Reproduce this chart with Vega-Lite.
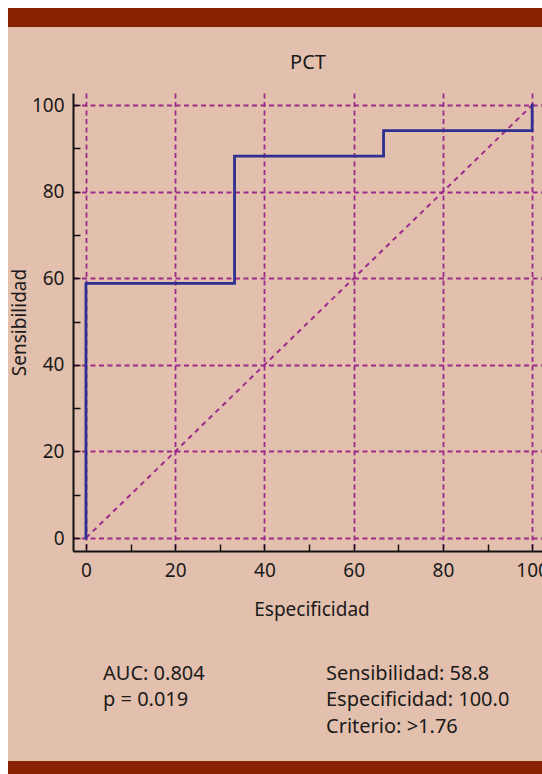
{
  "$schema": "https://vega.github.io/schema/vega-lite/v6.json",
  "width": 477,
  "height": 458,
  "autosize": {"type": "none"},
  "padding": {"left": 73, "top": 93, "right": 0, "bottom": 223},
  "background": "#e3c0ad",
  "config": {
    "view": {"stroke": null},
    "font": "Noto Sans",
    "axis": {
      "domainColor": "#111111",
      "domainWidth": 2,
      "tickColor": "#111111",
      "tickWidth": 1.5,
      "tickSize": -7,
      "labelFont": "Noto Sans",
      "labelFontSize": 19,
      "labelColor": "#1a1a1a",
      "labelOverlap": false,
      "labelFlush": false,
      "labelBound": false,
      "titleFont": "Noto Sans",
      "titleFontSize": 19,
      "titleFontWeight": "normal",
      "titleColor": "#1a1a1a",
      "grid": true,
      "gridColor": "#9c2a8c",
      "gridDash": [5, 3.5],
      "gridWidth": 1.8,
      "gridOpacity": {"condition": {"test": "datum.value % 20 === 0", "value": 1}, "value": 0}
    }
  },
  "datasets": {
    "roc": [
      {"i": 1, "esp": 0, "sens": 0},
      {"i": 2, "esp": 0, "sens": 58.8},
      {"i": 3, "esp": 33.3, "sens": 58.8},
      {"i": 4, "esp": 33.3, "sens": 88.2},
      {"i": 5, "esp": 66.7, "sens": 88.2},
      {"i": 6, "esp": 66.7, "sens": 94.1},
      {"i": 7, "esp": 100, "sens": 94.1},
      {"i": 8, "esp": 100, "sens": 100}
    ],
    "ref": [
      {"esp": 0, "sens": 0},
      {"esp": 100, "sens": 100}
    ],
    "one": [{}]
  },
  "layer": [
    {
      "data": {"name": "ref"},
      "mark": {"type": "line", "color": "#9c2a8c", "strokeWidth": 2, "strokeDash": [5, 4.5]},
      "encoding": {
        "x": {
          "field": "esp",
          "type": "quantitative",
          "scale": {"domain": [-2.9, 104], "nice": false, "zero": false},
          "axis": {
            "title": "Especificidad",
            "values": [0, 5, 10, 15, 20, 25, 30, 35, 40, 45, 50, 55, 60, 65, 70, 75, 80, 85, 90, 95, 100],
            "labelExpr": "datum.value % 20 === 0 ? datum.label : ''",
            "labelPadding": 17,
            "titlePadding": 20
          }
        },
        "y": {
          "field": "sens",
          "type": "quantitative",
          "scale": {"domain": [-3, 102.8], "nice": false, "zero": false},
          "axis": {
            "title": "Sensibilidad",
            "values": [0, 5, 10, 15, 20, 25, 30, 35, 40, 45, 50, 55, 60, 65, 70, 75, 80, 85, 90, 95, 100],
            "labelExpr": "datum.value % 20 === 0 ? datum.label : ''",
            "labelPadding": 16,
            "titlePadding": 2
          }
        }
      }
    },
    {
      "data": {"name": "roc"},
      "mark": {"type": "line", "color": "#2d3091", "strokeWidth": 2.8, "strokeJoin": "miter", "strokeCap": "square"},
      "encoding": {
        "x": {"field": "esp", "type": "quantitative"},
        "y": {"field": "sens", "type": "quantitative"},
        "order": {"field": "i", "type": "quantitative"}
      }
    },
    {
      "data": {"name": "one"},
      "mark": {"type": "rect", "color": "#ffffff"},
      "encoding": {
        "x": {"datum": -20},
        "x2": {"datum": -17.47},
        "y": {"datum": -56},
        "y2": {"datum": 125}
      }
    },
    {
      "data": {"name": "one"},
      "mark": {"type": "rect", "color": "#ffffff"},
      "encoding": {
        "x": {"datum": -20},
        "x2": {"datum": 110},
        "y": {"datum": 122.43},
        "y2": {"datum": 125}
      }
    },
    {
      "data": {"name": "one"},
      "mark": {"type": "rect", "color": "#8a2200"},
      "encoding": {
        "x": {"datum": -17.47},
        "x2": {"datum": 110},
        "y": {"datum": 118.05},
        "y2": {"datum": 122.43}
      }
    },
    {
      "data": {"name": "one"},
      "mark": {"type": "rect", "color": "#8a2200"},
      "encoding": {
        "x": {"datum": -17.47},
        "x2": {"datum": 110},
        "y": {"datum": -56},
        "y2": {"datum": -51.5}
      }
    },
    {
      "data": {"name": "one"},
      "mark": {"type": "text", "text": "PCT", "align": "center", "baseline": "alphabetic", "fontSize": 20, "color": "#1a1a1a", "font": "Noto Sans"},
      "encoding": {"x": {"datum": 49.77}, "y": {"datum": 108.23}}
    },
    {
      "data": {"name": "one"},
      "mark": {"type": "text", "text": "AUC: 0.804", "align": "left", "baseline": "alphabetic", "fontSize": 20, "color": "#1a1a1a", "font": "Noto Sans"},
      "encoding": {"x": {"datum": 3.82}, "y": {"datum": -32.8}}
    },
    {
      "data": {"name": "one"},
      "mark": {"type": "text", "text": "p = 0.019", "align": "left", "baseline": "alphabetic", "fontSize": 20, "color": "#1a1a1a", "font": "Noto Sans"},
      "encoding": {"x": {"datum": 3.82}, "y": {"datum": -38.8}}
    },
    {
      "data": {"name": "one"},
      "mark": {"type": "text", "text": "Sensibilidad: 58.8", "align": "left", "baseline": "alphabetic", "fontSize": 20, "color": "#1a1a1a", "font": "Noto Sans"},
      "encoding": {"x": {"datum": 53.8}, "y": {"datum": -32.8}}
    },
    {
      "data": {"name": "one"},
      "mark": {"type": "text", "text": "Especificidad: 100.0", "align": "left", "baseline": "alphabetic", "fontSize": 20, "color": "#1a1a1a", "font": "Noto Sans"},
      "encoding": {"x": {"datum": 53.8}, "y": {"datum": -38.8}}
    },
    {
      "data": {"name": "one"},
      "mark": {"type": "text", "text": "Criterio: >1.76", "align": "left", "baseline": "alphabetic", "fontSize": 20, "color": "#1a1a1a", "font": "Noto Sans"},
      "encoding": {"x": {"datum": 53.8}, "y": {"datum": -45.04}}
    }
  ]
}
